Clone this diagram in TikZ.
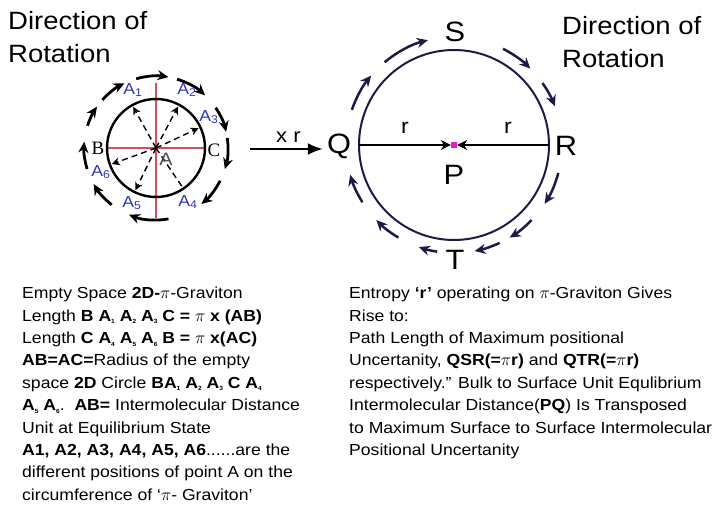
\documentclass[tikz,border=0pt]{standalone}
\usepackage{fontspec}
\setmainfont[FakeStretch=1.1]{Liberation Sans}
\newfontfamily\serifletters{Liberation Serif}
\usetikzlibrary{arrows.meta,positioning}
\definecolor{navyring}{RGB}{28,26,72}
\definecolor{posblue}{RGB}{45,55,185}
\definecolor{axisred}{RGB}{205,80,100}
\definecolor{centrepink}{RGB}{230,30,200}
\newcommand{\lowidx}[1]{\raisebox{-2.5pt}{\fontsize{6}{6}\selectfont #1}}

\begin{document}
\begin{tikzpicture}[x=1pt, y=1pt, every node/.style={inner sep=0pt}]
  \tikzset{
    heading/.style={anchor=north west, align=left, font=\fontsize{25}{33}\selectfont},
    bodytext/.style={anchor=north west, align=left, font=\fontsize{16}{22.4}\selectfont},
    ringarrow/.style={line width=2.8pt, -{Stealth[length=11pt,width=10pt]}},
    radial/.style={line width=1.4pt, dash pattern=on 6pt off 4pt, -{Stealth[length=8pt,width=8pt]}},
    posn/.style={text=posblue, font=\fontsize{16}{16}\selectfont},
    bigletter/.style={font=\fontsize{28}{28}\selectfont}
  }
  \useasboundingbox (0,0) rectangle (717,504);

  % headings
  \node[heading] (headleft) at (8,493) {Direction of\\Rotation};
  \node[heading] (headright) at (562,488) {Direction of\\Rotation};

  % pi-graviton circle
  \coordinate (acentre) at (156,356);
  \draw[axisred, line width=1.2pt] (107,356) -- (205,356);
  \draw[axisred, line width=1.2pt] (156,421) -- (156,286);
  \draw[line width=2.4pt] (acentre) circle[radius=49];
  \foreach \ang in {119,62,25,-116,-160}
    \draw[radial] (acentre) -- ++(\ang:47);
  \draw[line width=1.4pt, dash pattern=on 6pt off 4pt] (acentre) -- ++(-56:49);
  \foreach \a/\b in {197/175,162/145,138/116,106/80,73/47,34/13,8/-17,-27/-51,-80/-112,-128/-150}
    \draw[ringarrow, shift={(acentre)}] (\a:72) arc[start angle=\a, end angle=\b, radius=72];

  \node[posn] (apos1) at (133,414) {A\textsubscript{1}};
  \node[posn] (apos2) at (187,414) {A\textsubscript{2}};
  \node[posn] (apos3) at (209,387) {A\textsubscript{3}};
  \node[posn] (apos4) at (188,302) {A\textsubscript{4}};
  \node[posn] (apos5) at (132,301) {A\textsubscript{5}};
  \node[posn] (apos6) at (101,332) {A\textsubscript{6}};
  \node[font=\serifletters\fontsize{19}{19}\selectfont] (bpt) at (98,356) {B};
  \node[font=\serifletters\fontsize{19}{19}\selectfont] (cpt) at (214,354) {C};
  \node[text=black!70, font=\fontsize{18}{18}\selectfont] (apt) at (166,345) {A};

  % x r
  \node[bigletter] (qpt) at (339,358) {Q};
  \coordinate (xrstart) at (250,355);
  \draw[line width=2pt, -{Latex[length=15pt,width=12pt]}, shorten >=4pt] (xrstart) -- (qpt.west |- xrstart)
    node[midway, above=5pt, font=\fontsize{20}{20}\selectfont] (xrlabel) {x r};

  % entropy circle
  \coordinate (pcentre) at (454,359);
  \draw[navyring, line width=2pt] (pcentre) circle[radius=95];
  \coordinate (qedge) at (359,359);
  \coordinate (redge) at (549,359);
  \node[fill=centrepink, minimum size=6pt] (pdot) at (pcentre) {};
  \draw[line width=1.4pt, -{Stealth[length=10pt,width=10pt]}] (qedge) -- (pdot.west);
  \draw[line width=1.4pt, -{Stealth[length=10pt,width=10pt]}] (redge) -- (pdot.east);
  \node[font=\fontsize{21}{21}\selectfont] (rleft) at (405,376) {r};
  \node[font=\fontsize{21}{21}\selectfont] (rright) at (508,376) {r};
  \node[bigletter] (ppt) at (454,329) {P};
  \node[bigletter] (rpt) at (566,358) {R};
  \node[bigletter] (spt) at (455,472) {S};
  \node[bigletter] (tpt) at (455,244) {T};
  \foreach \a/\b in {161/140,130/104,63/45,35/21,-15/-33,-44/-59,-65/-79,-99/-109,-121/-136,-148/-164}
    \draw[ringarrow, navyring, line width=2.5pt, shift={(pcentre)}] (\a:108) arc[start angle=\a, end angle=\b, radius=108];

  % captions
  \node[bodytext] (lefttext) at (22,217) {Empty Space \textbf{2D-}$\pi$-Graviton\\
    Length \textbf{B A\lowidx{1} A\lowidx{2} A\lowidx{3} C =} $\pi$ \textbf{x (AB)}\\
    Length \textbf{C A\lowidx{4} A\lowidx{5} A\lowidx{6} B =} $\pi$ \textbf{x(AC)}\\
    \textbf{AB=AC=}Radius of the empty\\
    space \textbf{2D} Circle \textbf{BA\lowidx{1} A\lowidx{2} A\lowidx{3} C A\lowidx{4}}\\
    \textbf{A\lowidx{5} A\lowidx{6}}.\ \ \textbf{AB=} Intermolecular Distance\\
    Unit at Equilibrium State\\
    \textbf{A1, A2, A3, A4, A5, A6}......are the\\
    different positions of point A on the\\
    circumference of `$\pi$- Graviton'};
  \node[bodytext] (righttext) at (349,217) {Entropy \textbf{`r'} operating on $\pi$-Graviton Gives\\
    Rise to:\\
    Path Length of Maximum positional\\
    Uncertanity, \textbf{QSR(=$\pi$r)} and \textbf{QTR(=$\pi$r)}\\
    respectively.'' Bulk to Surface Unit Equlibrium\\
    Intermolecular Distance(\textbf{PQ}) Is Transposed\\
    to Maximum Surface to Surface Intermolecular\\
    Positional Uncertanity};
\end{tikzpicture}
\end{document}
